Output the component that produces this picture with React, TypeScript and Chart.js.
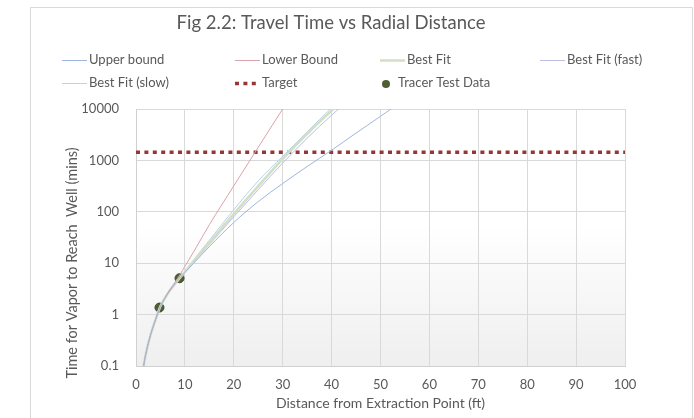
import React, { useEffect, useRef } from 'react';
import { Chart, registerables } from 'chart.js';

Chart.register(...registerables);

// ---- Data ----
const distances = [1, 1.5, 2, 3, 4, 5, 6, 7, 8, 9, 10, 12, 15, 20, 25, 30, 35, 40, 45, 50, 55];

const upperBound = [0.03, 0.09, 0.17, 0.41, 0.8, 1.45, 2.15, 3.0, 4.0, 5.2, 6.6, 10.5, 21, 62, 158, 355, 760, 1580, 3400, 7200, 15500];
const lowerBound = [0.03, 0.09, 0.17, 0.41, 0.8, 1.45, 2.2, 3.15, 4.3, 6.0, 8.7, 18, 56, 320, 1800, 10000, 50000, null, null, null, null];
const bestFit = [0.03, 0.09, 0.17, 0.41, 0.8, 1.45, 2.15, 3.0, 4.0, 5.2, 6.8, 11.5, 25, 91, 316, 1070, 3300, 9300, 25000, null, null];
const bestFitFast = [0.03, 0.09, 0.17, 0.41, 0.8, 1.45, 2.15, 3.0, 4.0, 5.2, 6.7, 11.0, 23, 80, 270, 890, 2700, 7600, 20000, null, null];
const bestFitSlow = [0.03, 0.09, 0.17, 0.41, 0.8, 1.45, 2.15, 3.0, 4.0, 5.2, 7.0, 12.3, 28, 110, 400, 1200, 3600, 10500, 28000, null, null];

const targetX = [0, 100];
const targetY = [1440, 1440];

const tracerX = [4.8, 8.9];
const tracerY = [1.37, 5.1];

const yTicks = [0.1, 1, 10, 100, 1000, 10000];

const titleText = 'Fig 2.2: Travel Time vs Radial Distance';
const xTitle = 'Distance from Extraction Point (ft)';
const yTitle = 'Time for Vapor to Reach  Well (mins)';

const FONT = 'Lato, "Open Sans", sans-serif';
const TEXT = '#595959';

const pts = (xs: number[], ys: (number | null)[]) => xs.map((x, i) => ({ x, y: ys[i] }));

const series = [
  { label: 'Upper bound', data: upperBound, color: '#9fb6de', width: 1 },
  { label: 'Lower Bound', data: lowerBound, color: '#dba3aa', width: 1 },
  { label: 'Best Fit', data: bestFit, color: '#d3dec6', width: 2.5 },
  { label: 'Best Fit (fast)', data: bestFitFast, color: '#b9c0e2', width: 1 },
  { label: 'Best Fit (slow)', data: bestFitSlow, color: '#b3d6ea', width: 1 },
];

const legendLayout = [
  { x: 62, y: 60 },
  { x: 235, y: 60 },
  { x: 380, y: 60 },
  { x: 540, y: 60 },
  { x: 62, y: 83 },
  { x: 235, y: 83 },
  { x: 380, y: 83 },
];

const decorPlugin = {
  id: 'decor',
  beforeDraw(chart: any) {
    const { ctx, chartArea: a } = chart;
    ctx.save();
    ctx.fillStyle = '#ffffff';
    ctx.fillRect(0, 0, chart.width, chart.height);
    ctx.strokeStyle = '#d9d9d9';
    ctx.lineWidth = 1;
    ctx.beginPath();
    ctx.moveTo(30.5, chart.height + 5);
    ctx.lineTo(30.5, 7.5);
    ctx.lineTo(692.5, 7.5);
    ctx.lineTo(692.5, chart.height + 5);
    ctx.stroke();
    const g = ctx.createLinearGradient(0, a.top, 0, a.bottom);
    g.addColorStop(0, '#ffffff');
    g.addColorStop(0.45, '#ffffff');
    g.addColorStop(1, '#efefef');
    ctx.fillStyle = g;
    ctx.fillRect(a.left, a.top, a.right - a.left, a.bottom - a.top);
    ctx.restore();
  },
  afterDraw(chart: any) {
    const { ctx } = chart;
    ctx.save();
    // title
    ctx.fillStyle = TEXT;
    ctx.font = `18.5px ${FONT}`;
    ctx.textAlign = 'center';
    ctx.textBaseline = 'middle';
    ctx.fillText(titleText, 331, 23);
    // y title
    ctx.save();
    ctx.translate(72, 263);
    ctx.rotate(-Math.PI / 2);
    ctx.font = `14.5px ${FONT}`;
    ctx.fillText(yTitle, 0, 0);
    ctx.restore();
    // legend
    ctx.font = `13px ${FONT}`;
    ctx.textAlign = 'left';
    const dsets = chart.data.datasets;
    dsets.forEach((ds: any, i: number) => {
      const p = legendLayout[i];
      if (!p) return;
      let tx = p.x + 27;
      if (ds.showLine === false) {
        ctx.fillStyle = ds.pointBackgroundColor;
        ctx.beginPath();
        ctx.arc(p.x + 6, p.y + 1, 4, 0, Math.PI * 2);
        ctx.fill();
        tx = p.x + 18;
      } else {
        ctx.strokeStyle = ds.borderColor;
        ctx.lineWidth = ds.borderWidth;
        ctx.setLineDash(ds.borderDash || []);
        ctx.beginPath();
        ctx.moveTo(p.x, p.y + 0.5);
        ctx.lineTo(p.x + 25, p.y + 0.5);
        ctx.stroke();
        ctx.setLineDash([]);
      }
      ctx.fillStyle = TEXT;
      ctx.fillText(ds.label, tx, p.y);
    });
    ctx.restore();
  },
};

export default function App() {
  const ref = useRef<HTMLCanvasElement | null>(null);
  useEffect(() => {
    if (!ref.current) return;
    const datasets: any[] = series.map((s) => ({
      label: s.label,
      data: pts(distances, s.data),
      borderColor: s.color,
      backgroundColor: s.color,
      borderWidth: s.width,
      showLine: true,
      pointRadius: 0,
      cubicInterpolationMode: 'monotone',
      spanGaps: false,
    }));
    datasets.push({
      label: 'Target',
      data: pts(targetX, targetY),
      borderColor: '#953735',
      backgroundColor: '#953735',
      borderWidth: 3.5,
      borderDash: [4, 4.4],
      showLine: true,
      pointRadius: 0,
    });
    datasets.push({
      label: 'Tracer Test Data',
      data: pts(tracerX, tracerY),
      showLine: false,
      pointRadius: 4.5,
      pointBackgroundColor: '#4f5f34',
      pointBorderColor: '#3f4c2a',
      pointBorderWidth: 1,
      backgroundColor: '#4f5f34',
      borderColor: '#3f4c2a',
    });

    const chart = new Chart(ref.current, {
      type: 'scatter',
      data: { datasets },
      plugins: [decorPlugin],
      options: {
        animation: false,
        responsive: false,
        devicePixelRatio: 1,
        layout: { padding: { left: 30, right: 69, top: 109, bottom: 0 } },
        plugins: {
          legend: { display: false },
          title: { display: false },
          tooltip: { enabled: false },
        },
        scales: {
          x: {
            type: 'linear',
            min: 0,
            max: 100,
            afterFit: (s: any) => { s.height = 52; },
            ticks: { stepSize: 10, color: TEXT, font: { family: FONT, size: 13 }, padding: 11, maxRotation: 0 },
            grid: { color: '#d9d9d9', lineWidth: 1, drawTicks: false },
            border: { color: '#d0d0d0' },
            title: { display: true, text: xTitle, color: TEXT, font: { family: FONT, size: 14 }, padding: { top: 0, bottom: 6 } },
          },
          y: {
            type: 'logarithmic',
            min: 0.1,
            max: 10000,
            afterFit: (s: any) => { s.width = 106; },
            afterBuildTicks: (s: any) => { s.ticks = yTicks.map((v) => ({ value: v, major: true })); },
            ticks: { color: TEXT, font: { family: FONT, size: 13 }, padding: 17, callback: (v: any) => String(v) },
            grid: { color: '#d9d9d9', lineWidth: 1, drawTicks: false },
            border: { color: '#d0d0d0' },
          },
        },
      } as any,
    });
    return () => chart.destroy();
  }, []);
  return (
    <div style={{ position: 'fixed', left: 0, top: 0, width: 694, height: 418 }}>
      <canvas ref={ref} width={694} height={418} style={{ width: 694, height: 418, display: 'block' }} />
    </div>
  );
}
